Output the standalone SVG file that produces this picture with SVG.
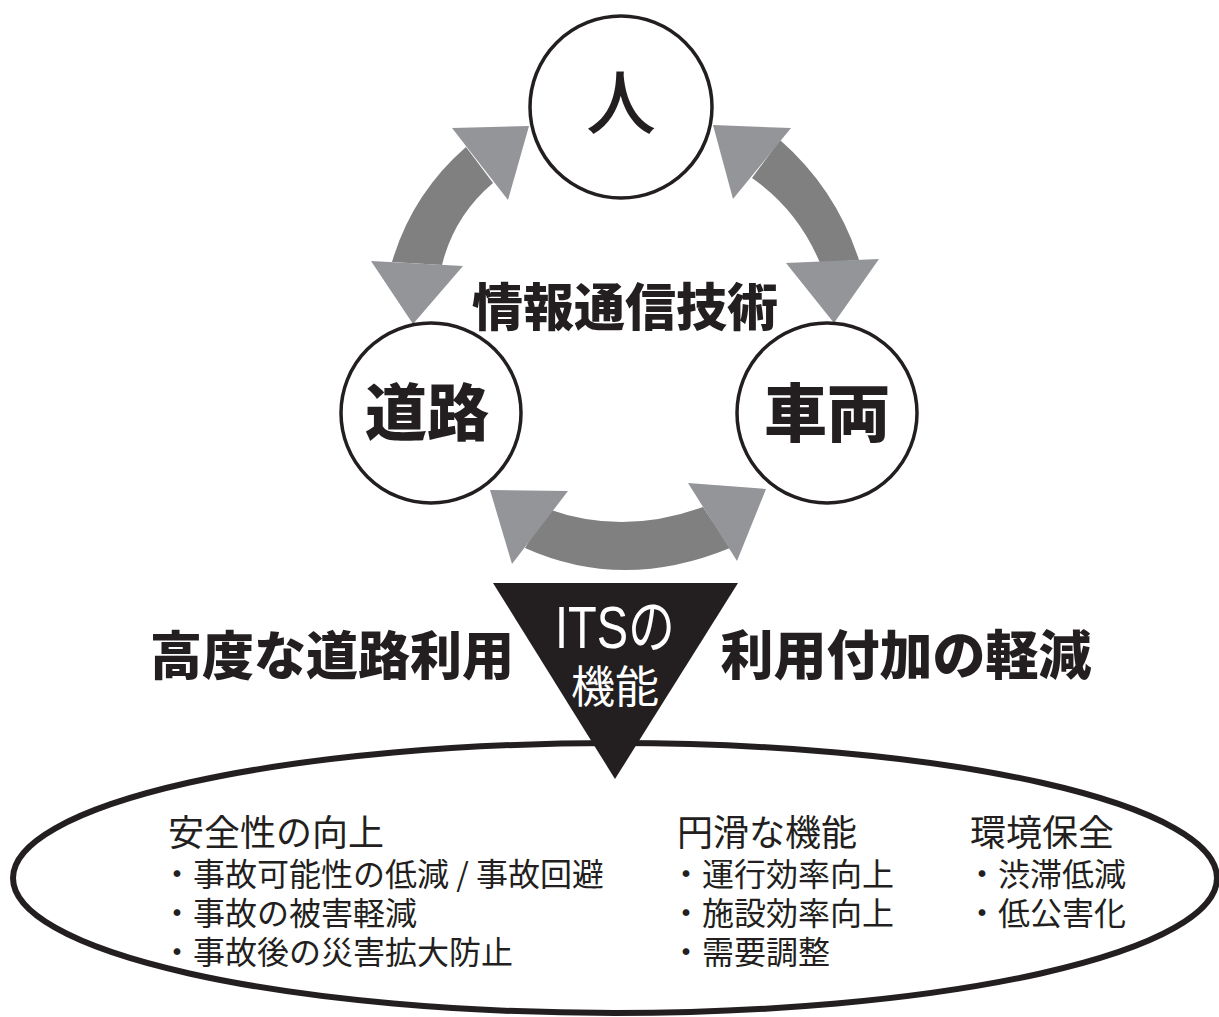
<svg xmlns="http://www.w3.org/2000/svg" width="1219" height="1017" viewBox="0 0 1219 1017">
<style>
.jp{font-family:"Noto Sans CJK JP","Noto Sans CJK SC",sans-serif;fill:#231f20}
.b{font-weight:900}
.node{fill:#fff;stroke:#231f20;stroke-width:3.5}
.body{fill:#808080}
.head{fill:#939598}
.h{font-size:36px}
.i{font-size:32px}
</style>
<rect width="1219" height="1017" fill="#fff"/>
<g id="connectors">
  <path class="body" d="M466,147 Q412,194 392,262 L442,265 Q454,216 493,183 Z"/>
  <polygon class="head" points="452,128 529,126 508,200"/>
  <polygon class="head" points="371,261 463,266 413,324"/>
  <path class="body" d="M780,140 Q836,189 859,260 L820,263 Q798,210 752,178 Z"/>
  <polygon class="head" points="713,125 791,128 733,199"/>
  <polygon class="head" points="786,263 879,259 834,323"/>
  <path class="body" d="M548,509 Q623,536 703,507 L730,548 Q623,592 525,548 Z"/>
  <polygon class="head" points="490,490 568,491 512,564"/>
  <polygon class="head" points="688,483 766,489 737,561"/>
</g>
<g id="node-person">
  <circle class="node" cx="621" cy="107" r="91"/>
  <text class="jp" x="621" y="129" font-size="70" text-anchor="middle" font-weight="500">人</text>
</g>
<g id="node-road">
  <circle class="node" cx="431" cy="413" r="90"/>
  <text class="jp b" x="427" y="436" font-size="62" text-anchor="middle">道路</text>
</g>
<g id="node-vehicle">
  <circle class="node" cx="827" cy="413" r="90"/>
  <text class="jp b" x="827" y="436" font-size="63" text-anchor="middle">車両</text>
</g>
<g id="label-ict">
  <text class="jp b" x="625" y="326" font-size="51" text-anchor="middle">情報通信技術</text>
</g>
<g id="node-functions">
  <ellipse cx="615" cy="878" rx="602" ry="135" fill="#fff" stroke="#231f20" stroke-width="6"/>
  <text class="jp h" x="168" y="846">安全性の向上</text>
  <text class="jp i" x="161" y="886">・事故可能性の低減 / 事故回避</text>
  <text class="jp i" x="161" y="925">・事故の被害軽減</text>
  <text class="jp i" x="161" y="964">・事故後の災害拡大防止</text>
  <text class="jp h" x="677" y="846">円滑な機能</text>
  <text class="jp i" x="670" y="886">・運行効率向上</text>
  <text class="jp i" x="670" y="925">・施設効率向上</text>
  <text class="jp i" x="670" y="964">・需要調整</text>
  <text class="jp h" x="970" y="846">環境保全</text>
  <text class="jp i" x="966" y="886">・渋滞低減</text>
  <text class="jp i" x="966" y="925">・低公害化</text>
</g>
<g id="node-its">
  <polygon points="493,583 738,583 615,779" fill="#231f20"/>
  <text x="555" y="648" font-size="60" textLength="120" lengthAdjust="spacingAndGlyphs" style="font-family:'Liberation Sans','Noto Sans CJK JP',sans-serif;fill:#fff">ITSの</text>
  <text class="jp" x="615" y="703" font-size="44" text-anchor="middle" style="fill:#fff">機能</text>
</g>
<g id="label-left">
  <text class="jp b" x="332" y="675" font-size="52" text-anchor="middle">高度な道路利用</text>
</g>
<g id="label-right">
  <text class="jp b" x="906" y="675" font-size="53" text-anchor="middle">利用付加の軽減</text>
</g>
</svg>
